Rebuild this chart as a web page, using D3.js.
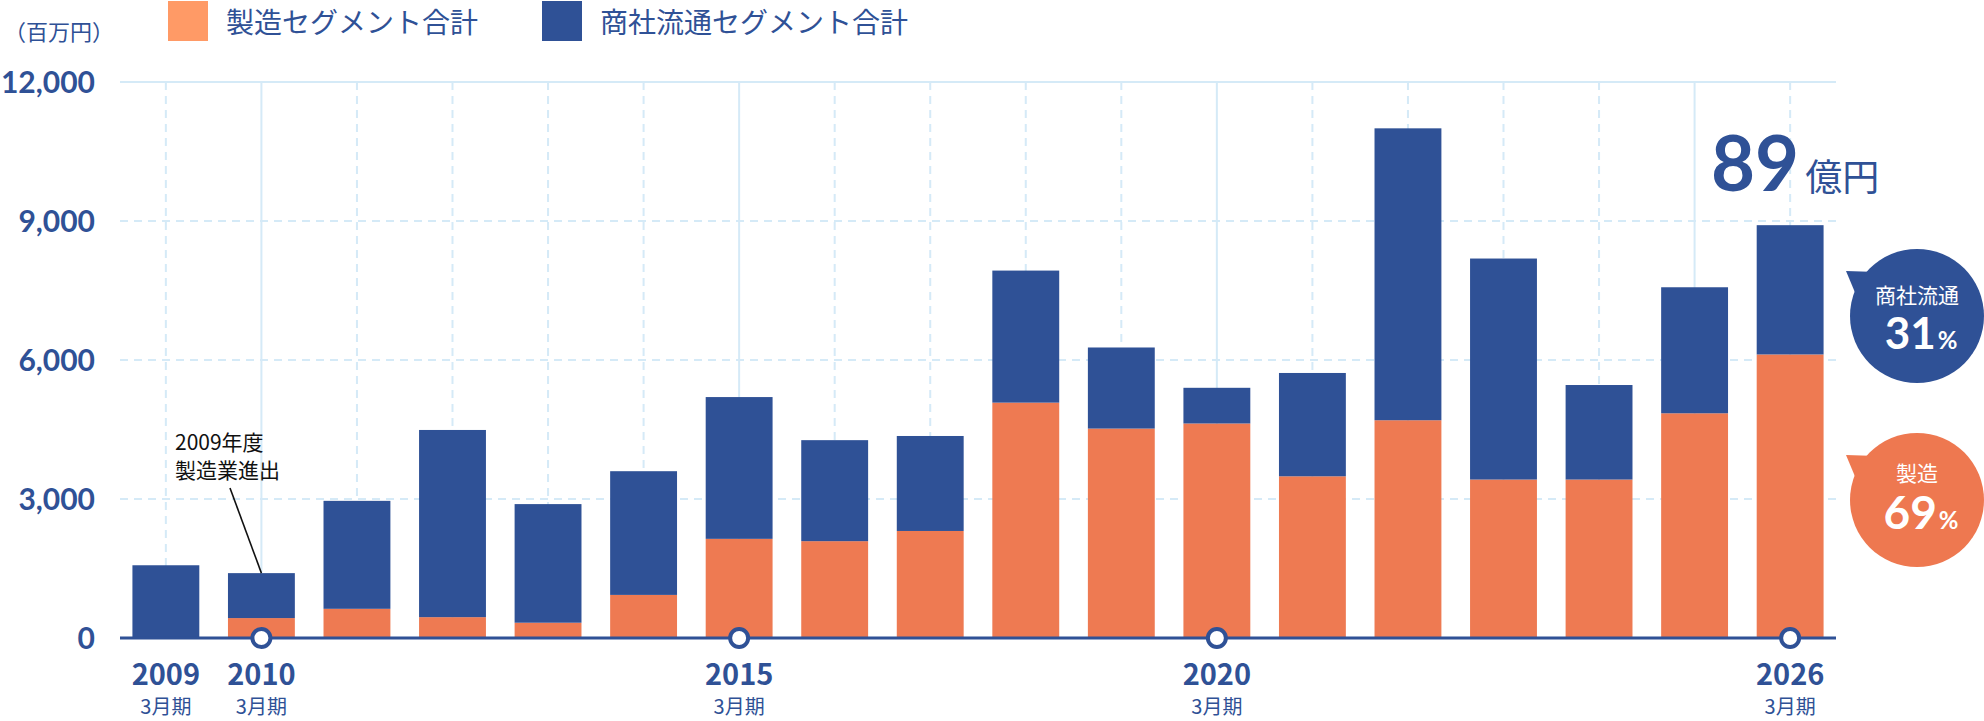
<!DOCTYPE html>
<html lang="ja">
<head>
<meta charset="utf-8">
<script src="https://cdn.jsdelivr.net/npm/d3@7"></script>
<style>
  body { margin: 0; background: #fff; }
  svg { display: block; }
</style>
</head>
<body>
<div id="container"></div>
<script>
/* DATA */
const years = ['2009','2010','2011','2012','2013','2014','2015','2016','2017',
               '2018','2019','2020','2021','2022','2023','2024','2025','2026'];
// 製造セグメント合計 (百万円)
const manufacturing = [0, 430, 630, 450, 330, 930, 2140, 2090, 2310,
                       5080, 4520, 4630, 3490, 4700, 3420, 3420, 4850, 6120];
// 商社流通セグメント合計 (百万円)
const trading = [1570, 970, 2330, 4040, 2560, 2670, 3060, 2180, 2050,
                 2850, 1750, 770, 2230, 6300, 4770, 2040, 2720, 2790];
const yTicks = [0, 3000, 6000, 9000, 12000];
const xTickYears = ['2009', '2010', '2015', '2020', '2026'];
const markerYears = ['2010', '2015', '2020', '2026'];
const solidGridYears = ['2010', '2015', '2020', '2025'];
const seriesNames = ['製造セグメント合計', '商社流通セグメント合計'];

/* CONSTANTS */
const width = 1984, height = 721;
const blue = '#2f5196', orange = '#ee7a52', legendOrange = '#ff9a66', grid = '#d5eaf7';
const jp = '"Noto Sans CJK JP", "Noto Sans", sans-serif';
const num = 'Lato, "Noto Sans", sans-serif';

const rows = years.map((y, i) => ({ year: y, manufacturing: manufacturing[i], trading: trading[i] }));
const stacked = d3.stack().keys(['manufacturing', 'trading'])(rows);

const x = d3.scaleBand()
  .domain(years)
  .range([120, 1836])
  .paddingInner(0.3)
  .paddingOuter(0.13);

const y = d3.scaleLinear()
  .domain([0, 12000])
  .range([638, 82]);

const cx = d => x(d) + x.bandwidth() / 2;

const svg = d3.select('#container')
  .append('svg')
  .attr('width', width)
  .attr('height', height);

// unit label
svg.append('text')
  .attr('x', 4)
  .attr('y', 40)
  .attr('font-family', jp)
  .attr('font-size', 22)
  .attr('fill', blue)
  .text('（百万円）');

// legend
const legend = svg.append('g');
[[168, legendOrange, 226], [542, blue, 600]].forEach((l, i) => {
  legend.append('rect')
    .attr('x', l[0]).attr('y', 1)
    .attr('width', 40).attr('height', 40)
    .attr('fill', l[1]);
  legend.append('text')
    .attr('x', l[2]).attr('y', 33)
    .attr('font-family', jp)
    .attr('font-size', 28)
    .attr('fill', blue)
    .text(seriesNames[i]);
});

// grid lines
svg.append('g')
  .selectAll('line')
  .data(yTicks.filter(d => d > 0))
  .join('line')
  .attr('x1', 120).attr('x2', 1836)
  .attr('y1', d => y(d)).attr('y2', d => y(d))
  .attr('stroke', grid)
  .attr('stroke-width', 2)
  .attr('stroke-dasharray', d => d === 12000 ? null : '8,6');

svg.append('g')
  .selectAll('line')
  .data(years)
  .join('line')
  .attr('x1', cx).attr('x2', cx)
  .attr('y1', y(12000)).attr('y2', y(0))
  .attr('stroke', grid)
  .attr('stroke-width', 2)
  .attr('stroke-dasharray', d => solidGridYears.includes(d) ? null : '8,6');

// y axis labels
const yAxis = svg.append('g')
  .attr('transform', 'translate(120,0)')
  .call(d3.axisLeft(y).tickValues(yTicks).tickSize(0).tickPadding(25).tickFormat(d3.format(',')));
yAxis.select('.domain').remove();
yAxis.selectAll('text')
  .attr('font-family', num)
  .attr('font-weight', 700)
  .attr('font-size', 30)
  .attr('fill', blue)
  .attr('dy', '0.36em');

// bars
svg.append('g')
  .selectAll('g')
  .data(stacked)
  .join('g')
  .attr('fill', d => d.key === 'manufacturing' ? orange : blue)
  .selectAll('rect')
  .data(d => d)
  .join('rect')
  .attr('x', d => x(d.data.year))
  .attr('y', d => y(d[1]))
  .attr('width', x.bandwidth())
  .attr('height', d => y(d[0]) - y(d[1]));

// baseline
svg.append('line')
  .attr('x1', 120).attr('x2', 1836)
  .attr('y1', y(0)).attr('y2', y(0))
  .attr('stroke', blue)
  .attr('stroke-width', 3);

// markers
svg.append('g')
  .selectAll('circle')
  .data(markerYears)
  .join('circle')
  .attr('cx', cx)
  .attr('cy', y(0))
  .attr('r', 9)
  .attr('fill', '#fff')
  .attr('stroke', blue)
  .attr('stroke-width', 4);

// x labels
const xl = svg.append('g')
  .selectAll('g')
  .data(xTickYears)
  .join('g')
  .attr('transform', d => `translate(${cx(d)},0)`)
  .attr('text-anchor', 'middle')
  .attr('fill', blue);
xl.append('text')
  .attr('y', 685)
  .attr('font-family', jp)
  .attr('font-weight', 700)
  .attr('font-size', 29)
  .text(d => d);
xl.append('text')
  .attr('y', 714)
  .attr('font-family', jp)
  .attr('font-size', 20)
  .text('3月期');

// annotation
const ann = svg.append('g').attr('font-family', jp).attr('font-size', 21).attr('fill', '#111');
ann.append('text').attr('x', 175).attr('y', 450).text('2009年度');
ann.append('text').attr('x', 175).attr('y', 478).text('製造業進出');
ann.append('line')
  .attr('x1', 230).attr('y1', 488)
  .attr('x2', cx('2010')).attr('y2', y(manufacturing[1] + trading[1]))
  .attr('stroke', '#111')
  .attr('stroke-width', 1.6);

// total label
const total = svg.append('text')
  .attr('x', 1711)
  .attr('y', 191)
  .attr('fill', blue);
total.append('tspan')
  .attr('font-family', num)
  .attr('font-weight', 700)
  .attr('font-size', 76)
  .text('89');
total.append('tspan')
  .attr('dx', 6)
  .attr('font-family', jp)
  .attr('font-size', 37)
  .text('億円');

// bubbles
const last = years.length - 1;
const lastTotal = manufacturing[last] + trading[last];
const bubbles = [
  { name: '商社流通', pct: Math.round(trading[last] / lastTotal * 100), color: blue, cy: 316, size: 44, nameY: -13, numY: 33 },
  { name: '製造', pct: Math.round(manufacturing[last] / lastTotal * 100), color: '#ee7850', cy: 500, size: 46, nameY: -19, numY: 29 }
];
bubbles.forEach(b => {
  const g = svg.append('g').attr('transform', `translate(1917,${b.cy})`);
  g.append('path')
    .attr('d', 'M-71,-45 L-40,-44 L-58,-14 Z')
    .attr('fill', b.color);
  g.append('circle').attr('r', 67).attr('fill', b.color);
  g.append('text')
    .attr('y', b.nameY)
    .attr('text-anchor', 'middle')
    .attr('font-family', jp)
    .attr('font-size', 21)
    .attr('fill', '#fff')
    .text(b.name);
  const t = g.append('text')
    .attr('y', b.numY)
    .attr('x', 4)
    .attr('text-anchor', 'middle')
    .attr('fill', '#fff');
  t.append('tspan')
    .attr('font-family', num)
    .attr('font-weight', 700)
    .attr('font-size', b.size)
    .text(b.pct);
  t.append('tspan')
    .attr('dx', 2)
    .attr('font-family', num)
    .attr('font-weight', 700)
    .attr('font-size', 24)
    .text('%');
});
</script>
</body>
</html>
